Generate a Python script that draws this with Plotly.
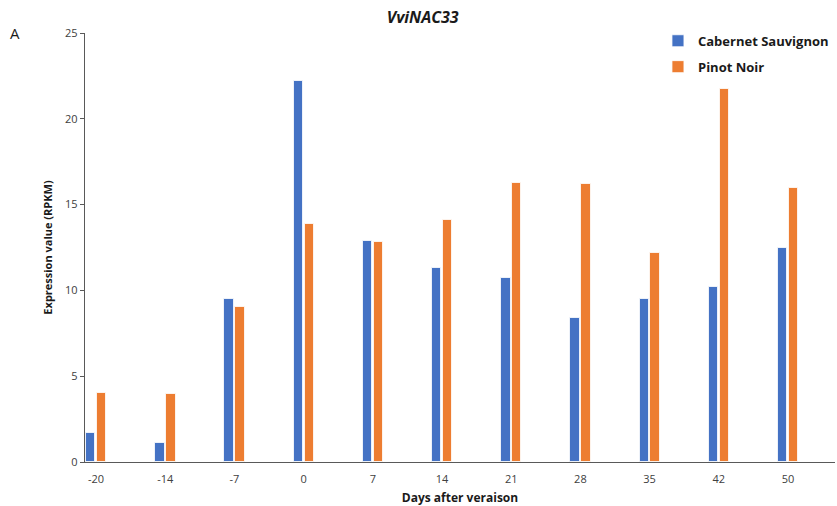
import plotly.graph_objects as go

# Days after veraison and expression (RPKM) for each cultivar
days = ["-20", "-14", "-7", "0", "7", "14", "21", "28", "35", "42", "50"]
cabernet_sauvignon = [1.67, 1.09, 9.5, 22.23, 12.89, 11.29, 10.71, 8.38, 9.5, 10.22, 12.5]
pinot_noir = [4.0, 3.96, 9.04, 13.88, 12.83, 14.11, 16.27, 16.19, 12.19, 21.73, 15.94]

y_ticks = [0, 5, 10, 15, 20, 25]

idx = list(range(len(days)))
FONT = "Open Sans, Liberation Sans, Arial, sans-serif"
TXT = "#404040"

fig = go.Figure()
fig.add_trace(go.Bar(
    x=idx, y=cabernet_sauvignon, name="Cabernet Sauvignon",
    width=0.135, offset=-0.145, legendgroup="cs",
    marker=dict(color="#4472C4", line=dict(color="rgba(255,255,255,0.8)", width=1)),
))
fig.add_trace(go.Bar(
    x=idx, y=pinot_noir, name="Pinot Noir",
    width=0.135, offset=0.013, legendgroup="pn",
    marker=dict(color="#ED7D31", line=dict(color="rgba(255,255,255,0.8)", width=1)),
))

fig.update_layout(
    width=837, height=506,
    margin=dict(l=85, r=2, t=33, b=44, autoexpand=False),
    paper_bgcolor="white", plot_bgcolor="white",
    font=dict(family=FONT, size=11, color=TXT),
    title=dict(text="<b><i>VviNAC33</i></b>", x=0.505, xanchor="center",
               y=0.966, yanchor="middle",
               font=dict(family=FONT, size=16, color="#1a1a1a")),
    showlegend=True,
    legend=dict(x=0.7861, xref="container", y=0.949, yref="container",
                yanchor="top", xanchor="left", bgcolor="rgba(0,0,0,0)",
                tracegroupgap=6, traceorder="grouped",
                font=dict(family=FONT, size=13, color="#1a1a1a", weight="bold"),
                itemwidth=30),
    bargap=0,
)

fig.update_xaxes(
    range=[-0.16, 10.68], tickmode="array", tickvals=idx,
    ticktext=days, showline=True, linecolor="#595959", linewidth=1.3,
    ticks="", showgrid=False, zeroline=False, ticklabelstandoff=7,
    tickfont=dict(size=11, color=TXT),
    title=dict(text="<b>Days after veraison</b>", standoff=8,
               font=dict(size=12, color="#1a1a1a")),
)
fig.update_yaxes(
    range=[0, 25], tickmode="array", tickvals=y_ticks,
    showline=True, linecolor="#595959", linewidth=1.3,
    ticks="outside", ticklen=4, tickcolor="#595959",
    showgrid=False, zeroline=False,
    tickfont=dict(size=11, color=TXT),
    title=dict(text="<b>Expression value (RPKM)</b>", standoff=10,
               font=dict(size=11, color="#1a1a1a")),
)

fig.add_annotation(text="A", xref="paper", yref="paper",
                   x=-0.094, y=1.0, xanchor="center", yanchor="middle",
                   showarrow=False, font=dict(family=FONT, size=15, color="#1a1a1a"))

fig.write_html("out.html")
